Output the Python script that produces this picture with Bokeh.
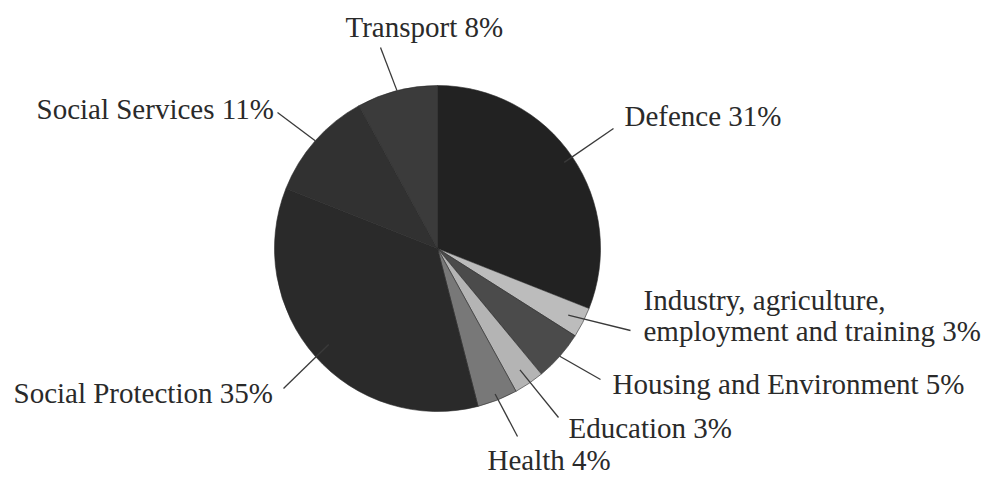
import math
from bokeh.plotting import figure
from bokeh.models import Range1d, ColumnDataSource
from bokeh.core.properties import value
from bokeh.embed import file_html
from bokeh.resources import INLINE

# ---- data ----
categories = ["Defence", "Industry, agriculture,\nemployment and training", "Housing and Environment",
              "Education", "Health", "Social Protection", "Social Services", "Transport"]
shares = [31, 3, 5, 3, 4, 35, 11, 8]
colors = ["#222222", "#bcbcbc", "#4b4b4b", "#b4b4b4", "#787878", "#2a2a2a", "#313131", "#3b3b3b"]

# ---- layout (image pixel coords: x, baseline y) ----
IMG_W, IMG_H = 997, 477
FIG_W, FIG_H = 997, 477
CX, CY, R = 437, 248, 163
label_pos = [(624, 125), (643, 309), (612, 393), (568, 437), (487, 469), (13, 402), (36, 118), (345, 36)]
leader_out = [(613, 128), (630, 330), (600, 379), (558, 417), (517, 436), (283, 388), (277, 112), (380, 47)]
leader_rf = [0.94, 0.90, 1.0, 0.90, 0.96, 0.89, 1.0, 1.0]
LINE_H = 31
TEXT_SHIFT = 10  # renderer draws alphabetic baseline lower; compensate

p = figure(width=FIG_W, height=FIG_H, output_backend="svg", toolbar_location=None,
           x_range=Range1d(0, FIG_W), y_range=Range1d(IMG_H - FIG_H, IMG_H),
           x_axis_location=None, y_axis_location=None,
           min_border=0, outline_line_color=None)
p.grid.visible = False
p.background_fill_color = "white"

total = sum(shares)
starts, ends, mids = [], [], []
acc = 0.0
for s in shares:
    a0 = acc / total * 360
    acc += s
    a1 = acc / total * 360
    starts.append(math.radians(90 - a0))
    ends.append(math.radians(90 - a1))
    mids.append(math.radians(90 - (a0 + a1) / 2))

src = ColumnDataSource(dict(x=[CX] * len(shares), y=[IMG_H - CY] * len(shares),
                            start=starts, end=ends, color=colors))
p.wedge(x="x", y="y", radius=R, start_angle="start", end_angle="end", direction="clock",
        fill_color="color", line_color="#2a2a2a", line_width=0.6, source=src)

# leaders
x0s, y0s, x1s, y1s = [], [], [], []
for m, (ox, oy), rf in zip(mids, leader_out, leader_rf):
    x0s.append(ox); y0s.append(IMG_H - oy)
    x1s.append(CX + R * rf * math.cos(m)); y1s.append(IMG_H - CY + R * rf * math.sin(m))
p.segment(x0=x0s, y0=y0s, x1=x1s, y1=y1s, line_color="#3a3a3a", line_width=1.3)

# labels
tx, ty, tt = [], [], []
for cat, s, (lx, ly) in zip(categories, shares, label_pos):
    lines = f"{cat} {s}%".split("\n")
    for i, ln in enumerate(lines):
        tx.append(lx); ty.append(IMG_H - (ly + i * LINE_H - TEXT_SHIFT)); tt.append(ln)
p.text(x=tx, y=ty, text=tt, text_font=value("Liberation Serif"), text_font_size="29px",
       text_color="#2a2a2a", text_align="left", text_baseline="alphabetic")

open("out.html", "w").write(file_html(p, INLINE))
